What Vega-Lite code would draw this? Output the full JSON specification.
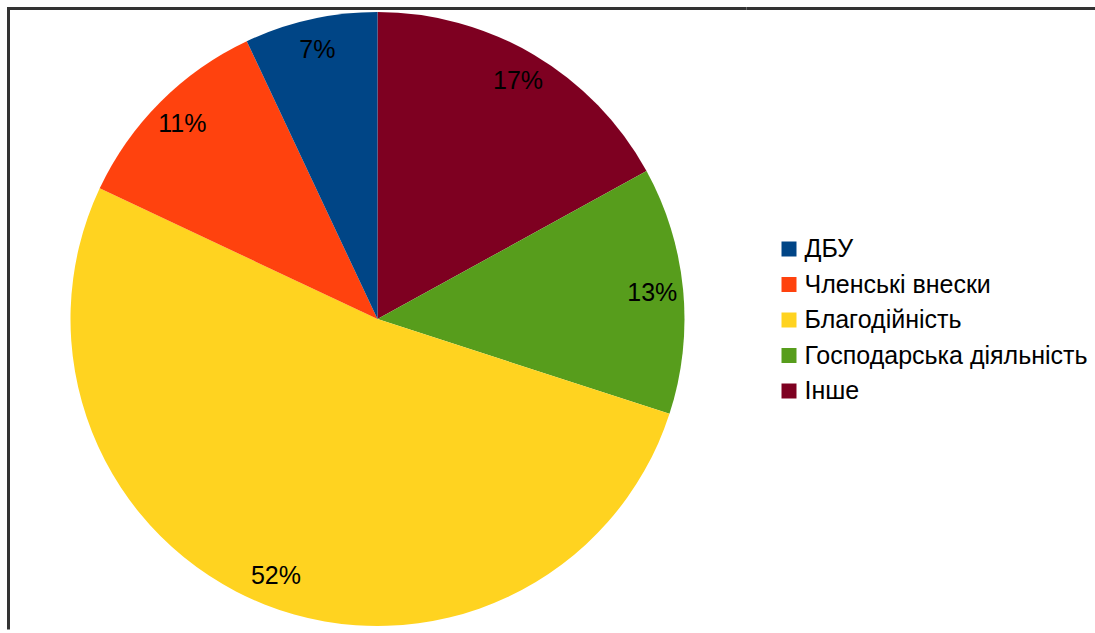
{
  "$schema": "https://vega.github.io/schema/vega-lite/v6.json",
  "autosize": {"type": "pad"},
  "padding": {"left": 6.5, "top": 6.5, "right": 0, "bottom": 0},
  "background": "white",
  "spacing": 0,
  "bounds": "flush",
  "data": {
    "values": [
      {"category": "Інше", "share": 17, "label": "17%", "order": 1},
      {"category": "Господарська діяльність", "share": 13, "label": "13%", "order": 2},
      {"category": "Благодійність", "share": 52, "label": "52%", "order": 3},
      {"category": "Членські внески", "share": 11, "label": "11%", "order": 4},
      {"category": "ДБУ", "share": 7, "label": "7%", "order": 5}
    ]
  },
  "hconcat": [
    {
      "width": 738,
      "height": 621,
      "view": {"stroke": "#333333", "strokeWidth": 3, "strokeDash": [738, 1359, 621]},
      "encoding": {
        "theta": {"field": "share", "type": "quantitative", "stack": true},
        "order": {"field": "order", "type": "quantitative"}
      },
      "layer": [
        {
          "mark": {"type": "arc", "outerRadius": 307},
          "encoding": {
            "color": {
              "field": "category",
              "type": "nominal",
              "scale": {
                "domain": ["ДБУ", "Членські внески", "Благодійність", "Господарська діяльність", "Інше"],
                "range": ["#004586", "#ff420e", "#ffd320", "#579d1c", "#7e0021"]
              },
              "legend": {
                "orient": "none",
                "legendX": 768,
                "legendY": 228,
                "title": null,
                "symbolType": "square",
                "symbolSize": 225,
                "symbolStrokeWidth": 0,
                "labelFontSize": 25,
                "labelFont": "Liberation Sans",
                "labelColor": "black",
                "rowPadding": 9.5,
                "padding": 0,
                "labelOffset": 3,
                "labelLimit": 400
              }
            }
          }
        },
        {
          "mark": {"type": "text", "radius": 276, "fontSize": 25, "font": "Liberation Sans", "color": "black"},
          "encoding": {"text": {"field": "label"}}
        }
      ]
    },
    {
      "width": 349,
      "height": 621,
      "view": {"stroke": "#333333", "strokeWidth": 3, "strokeDash": [349, 3000]},
      "mark": {"type": "text", "text": ""}
    }
  ]
}
